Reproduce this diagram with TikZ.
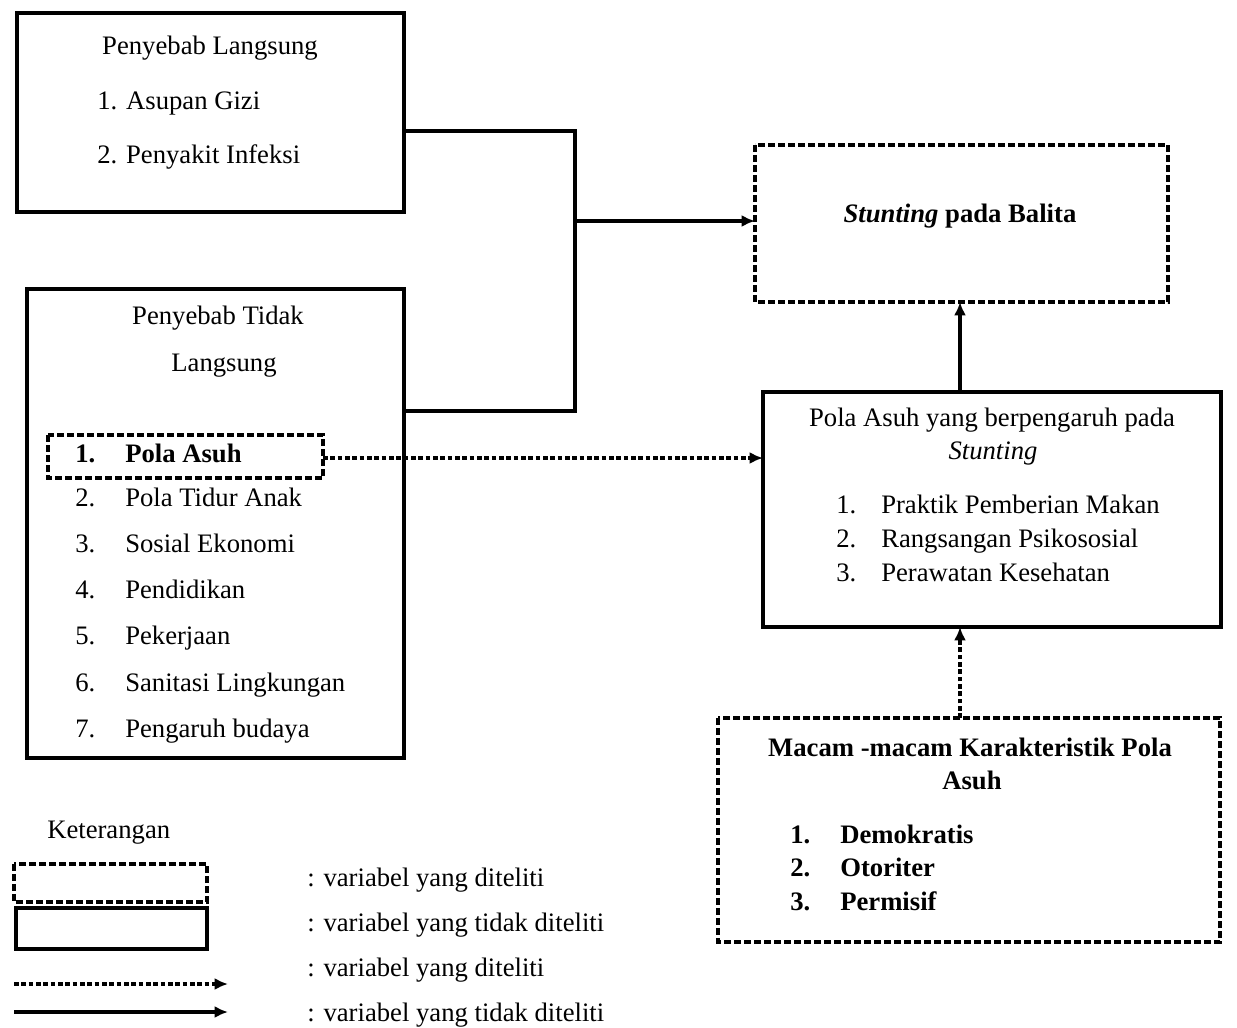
\documentclass[tikz,border=0pt]{standalone}
\usepackage{fontspec}
\setmainfont{Liberation Serif}
\usetikzlibrary{arrows.meta}
\begin{document}
\begin{tikzpicture}[x=0.75pt,y=-0.75pt,
  solidbox/.style={draw=black,line width=2.6pt},
  dashbox/.style={draw=black,line width=2.6pt,dash pattern=on 5pt off 2.5pt},
  conn/.style={draw=black,line width=2.6pt},
  dconn/.style={draw=black,line width=2.4pt,dash pattern=on 3.5pt off 2pt},
  tip/.style={-{Latex[length=10pt,width=9pt]}},
  txt/.style={inner sep=0pt,text height=14pt,text depth=4.5pt,font=\fontsize{20}{24}\selectfont},
  ltxt/.style={txt,anchor=west},
  btxt/.style={txt,font=\fontsize{20}{24}\selectfont\bfseries}]
\useasboundingbox (0,0) rectangle (1237,1027);
% boxes
\path[solidbox] (17,13) rectangle (404,212);
\coordinate (b1r) at (404,131);
\path[solidbox] (27,289) rectangle (404,758);
\coordinate (b2r) at (404,411);
\path[dashbox] (48,435) rectangle (323,478);
\coordinate (paL) at (323,458);
\path[dashbox] (755,145) rectangle (1168,302);
\coordinate (stL) at (755,221);
\coordinate (stB) at (960,302);
\path[solidbox] (763,392) rectangle (1221,627);
\coordinate (poT) at (960,392);
\coordinate (poL) at (763,458);
\coordinate (poB) at (960,627);
\path[dashbox] (718,718) rectangle (1220,942);
\coordinate (maT) at (960,718);
% box 1 text
\node[txt] (t1) at (210,48) {Penyebab Langsung};
\node[ltxt] (t2) at (97,103) {1. Asupan Gizi};
\node[ltxt] (t3) at (97,157) {2. Penyakit Infeksi};
% box 2 text
\node[txt] (t4) at (218,318) {Penyebab Tidak};
\node[txt] (t5) at (224,365) {Langsung};
\node[btxt,anchor=west] (n1) at (75,456) {1.};
\node[btxt,anchor=west] (l1) at (125,456) {Pola Asuh};
\node[ltxt] (n2) at (75,500) {2.};
\node[ltxt] (l2) at (125,500) {Pola Tidur Anak};
\node[ltxt] (n3) at (75,546) {3.};
\node[ltxt] (l3) at (125,546) {Sosial Ekonomi};
\node[ltxt] (n4) at (75,592) {4.};
\node[ltxt] (l4) at (125,592) {Pendidikan};
\node[ltxt] (n5) at (75,638) {5.};
\node[ltxt] (l5) at (125,638) {Pekerjaan};
\node[ltxt] (n6) at (75,685) {6.};
\node[ltxt] (l6) at (125,685) {Sanitasi Lingkungan};
\node[ltxt] (n7) at (75,731) {7.};
\node[ltxt] (l7) at (125,731) {Pengaruh budaya};
% stunting
\node[btxt] (st) at (960,216) {\textit{Stunting} pada Balita};
% pola asuh right
\node[txt] (p1) at (992,420) {Pola Asuh yang berpengaruh pada};
\node[txt] (p2) at (993,453) {\textit{Stunting}};
\node[ltxt] (pn1) at (836,507) {1.};
\node[ltxt] (pl1) at (881,507) {Praktik Pemberian Makan};
\node[ltxt] (pn2) at (836,541) {2.};
\node[ltxt] (pl2) at (881,541) {Rangsangan Psikososial};
\node[ltxt] (pn3) at (836,575) {3.};
\node[ltxt] (pl3) at (881,575) {Perawatan Kesehatan};
% macam
\node[btxt] (m1) at (970,750) {Macam -macam Karakteristik Pola};
\node[btxt] (m2) at (972,783) {Asuh};
\node[btxt,anchor=west] (mn1) at (790,837) {1.};
\node[btxt,anchor=west] (ml1) at (840,837) {Demokratis};
\node[btxt,anchor=west] (mn2) at (790,870) {2.};
\node[btxt,anchor=west] (ml2) at (840,870) {Otoriter};
\node[btxt,anchor=west] (mn3) at (790,904) {3.};
\node[btxt,anchor=west] (ml3) at (840,904) {Permisif};
% connectors
\coordinate (j1) at (575,131);
\coordinate (j2) at (575,411);
\coordinate (j3) at (575,221);
\draw[conn] (b1r) -- (j1) -- (j2) -- (b2r);
\draw[conn,tip] (j3) -- (stL);
\draw[dconn,tip] (paL) -- (poL);
\draw[conn,tip] (poT) -- (stB);
\draw[dconn,tip] (maT) -- (poB);
% legend
\node[ltxt] (ket) at (47,832) {Keterangan};
\path[dashbox] (14,864) rectangle (207,902);
\path[solidbox] (16,908) rectangle (207,949);
\coordinate (la1) at (14,984);
\coordinate (la2) at (228,984);
\coordinate (lb1) at (14,1012);
\coordinate (lb2) at (228,1012);
\draw[dconn,tip] (la1) -- (la2);
\draw[conn,tip] (lb1) -- (lb2);
\node[ltxt] (k1) at (307,880) {: variabel yang diteliti};
\node[ltxt] (k2) at (307,925) {: variabel yang tidak diteliti};
\node[ltxt] (k3) at (307,970) {: variabel yang diteliti};
\node[ltxt] (k4) at (307,1015) {: variabel yang tidak diteliti};
\end{tikzpicture}
\end{document}
